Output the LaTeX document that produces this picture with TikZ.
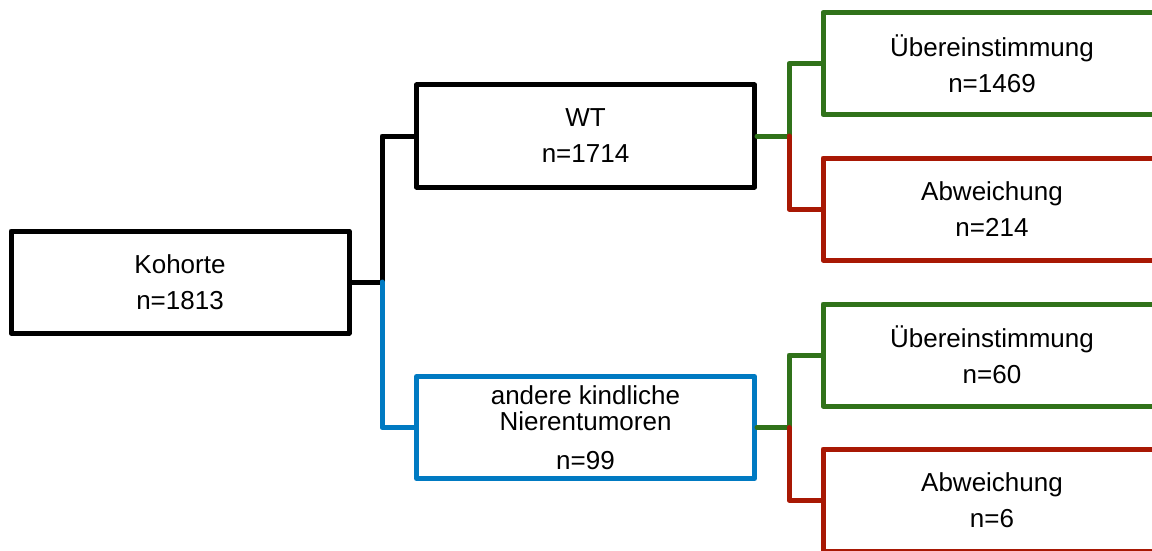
\documentclass[tikz,border=0pt]{standalone}
\usepackage{fontspec}
\setmainfont{Liberation Sans}
\definecolor{ink}{RGB}{0,0,0}
\definecolor{other}{RGB}{0,122,194}
\definecolor{match}{RGB}{48,114,26}
\definecolor{mismatch}{RGB}{168,24,4}

\begin{document}
\begin{tikzpicture}[x=1pt,y=-1pt,line join=round,line cap=round,
  box/.style={draw=#1,line width=5pt,minimum width=338pt,minimum height=102pt,inner sep=0pt,align=center,text=ink,font=\fontsize{26}{36}\selectfont},
  box/.default=ink,
  link/.style={draw=#1,line width=5pt}]
\useasboundingbox (0,0) rectangle (1152,551);
\clip (0,0) rectangle (1152,551);
% cohort and first split
\node[box] (kohorte) at (180,282) {Kohorte\\n=1813};
\node[box] (wt) at (585.5,136) {WT\\n=1714};
\node[box=other] (andere) at (585.5,427.5) {andere kindliche\\[-10pt]Nierentumoren\\[3pt]n=99};
% agreement per group
\node[box=match] (wt-match) at (992,63.5) {Übereinstimmung\\n=1469};
\node[box=mismatch] (wt-diff) at (992,209) {Abweichung\\n=214};
\node[box=match] (and-match) at (992,355) {Übereinstimmung\\n=60};
\node[box=mismatch] (and-diff) at (992,500) {Abweichung\\n=6};
% forks
\coordinate (k-fork) at (382,282);
\coordinate (wt-fork) at (789,136);
\coordinate (and-fork) at (789,427.5);
\draw[link=ink] (kohorte.east) -- (k-fork) |- (wt.west);
\draw[link=other] (k-fork) |- (andere.west);
\draw[link=match] (wt.east) -- (wt-fork) |- (wt-match.west);
\draw[link=mismatch] (wt-fork) |- (wt-diff.west);
\draw[link=match] (andere.east) -- (and-fork) |- (and-match.west);
\draw[link=mismatch] (and-fork) |- (and-diff.west);
\end{tikzpicture}
\end{document}
